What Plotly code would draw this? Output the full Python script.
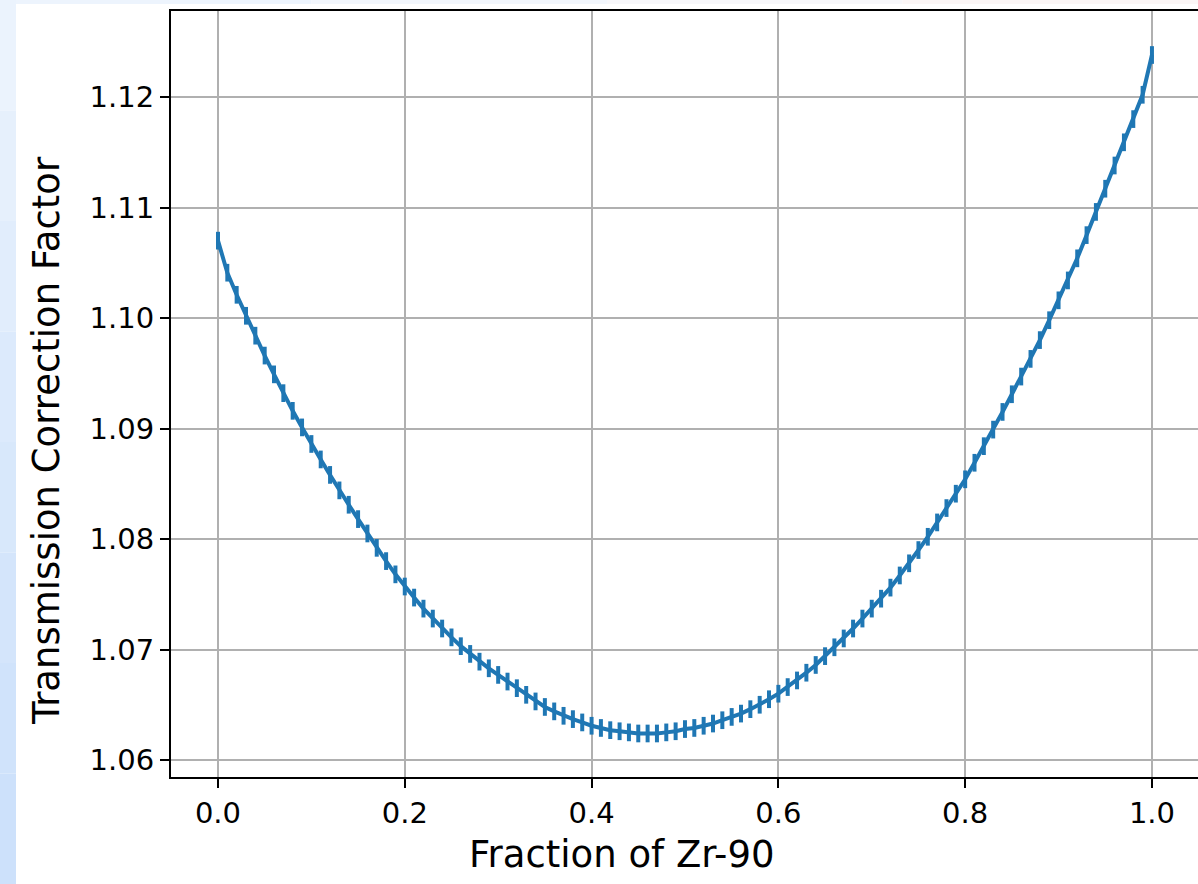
import plotly.graph_objects as go

# ---- data ----
fraction_zr90 = [round(i * 0.01, 2) for i in range(101)]
correction_factor = [
    1.1070, 1.1041, 1.1021, 1.1002, 1.0984, 1.0966, 1.0949, 1.0932, 1.0916, 1.0901,
    1.0886, 1.0872, 1.0858, 1.0844, 1.0831, 1.0818, 1.0805, 1.0792, 1.0780, 1.0768,
    1.0757, 1.0747, 1.0737, 1.0728, 1.0719, 1.0711, 1.0703, 1.0696, 1.0689, 1.0683,
    1.0677, 1.0671, 1.0665, 1.0659, 1.0653, 1.0648, 1.0644, 1.0640, 1.0637, 1.0634,
    1.0631, 1.0629, 1.0627, 1.0626, 1.0625, 1.0624, 1.0624, 1.0624, 1.0625, 1.0626,
    1.0628, 1.0629, 1.0631, 1.0633, 1.0636, 1.0639, 1.0642, 1.0646, 1.0650, 1.0655,
    1.0660, 1.0666, 1.0672, 1.0679, 1.0686, 1.0694, 1.0702, 1.0710, 1.0719, 1.0728,
    1.0737, 1.0746, 1.0756, 1.0767, 1.0778, 1.0790, 1.0802, 1.0815, 1.0828, 1.0841,
    1.0854, 1.0869, 1.0884, 1.0899, 1.0915, 1.0931, 1.0947, 1.0963, 1.0980, 1.0998,
    1.1016, 1.1034, 1.1054, 1.1075, 1.1096, 1.1117, 1.1138, 1.1159, 1.1180, 1.1202,
    1.1238,
]
uncertainty = [0.0008] * len(correction_factor)

x_ticks = [0.0, 0.2, 0.4, 0.6, 0.8, 1.0]
x_tick_labels = ["0.0", "0.2", "0.4", "0.6", "0.8", "1.0"]
y_ticks = [1.06, 1.07, 1.08, 1.09, 1.10, 1.11, 1.12]
y_tick_labels = ["1.06", "1.07", "1.08", "1.09", "1.10", "1.11", "1.12"]

x_title = "Fraction of Zr-90"
y_title = "Transmission Correction Factor"

# ---- figure ----
W, H = 1198, 884
L, R, T, B = 171, 0, 11, 107
pw, ph = W - L - R, H - T - B

def px(xpix):
    return (xpix - L) / pw

def py(ypix):
    return (H - B - ypix) / ph

BLUE = "#1f77b4"
FONT = "DejaVu Sans"

fig = go.Figure()
fig.add_trace(go.Scatter(
    x=fraction_zr90,
    y=correction_factor,
    mode="lines",
    line=dict(color=BLUE, width=4),
    error_y=dict(type="data", array=uncertainty, visible=True,
                 color=BLUE, thickness=4, width=0),
    showlegend=False,
))

shapes = []
# light blue frame strips around the white figure (screenshot backdrop)
strip_cols = ["#ebf3fd", "#e6f0fc", "#e1edfc", "#dceafc", "#d8e8fb", "#d4e5fb", "#d0e3fb", "#cde1fb"]
n = len(strip_cols)
for i, c in enumerate(strip_cols):
    y0 = H * i / n
    y1 = H * (i + 1) / n
    shapes.append(dict(type="rect", xref="paper", yref="paper",
                       x0=px(0), x1=px(16), y0=py(y1), y1=py(y0),
                       fillcolor=c, line=dict(width=0), layer="below"))
top_cols = ["#edf4fd", "#f2f6fc", "#f7f7fa", "#fbf6f6"]
m = len(top_cols)
for i, c in enumerate(top_cols):
    x0 = 16 + (W - 16) * i / m
    x1 = 16 + (W - 16) * (i + 1) / m
    shapes.append(dict(type="rect", xref="paper", yref="paper",
                       x0=px(x0), x1=px(x1), y0=py(4), y1=py(0),
                       fillcolor=c, line=dict(width=0), layer="below"))

fig.update_layout(
    width=W, height=H,
    margin=dict(l=L, r=R, t=T, b=B, pad=0),
    paper_bgcolor="white",
    plot_bgcolor="white",
    font=dict(family=FONT, color="black", size=29),
    shapes=shapes,
    hovermode=False,
    annotations=[
        dict(text=x_title, xref="paper", yref="paper", x=px(622), y=py(854),
             xanchor="center", yanchor="middle", showarrow=False,
             font=dict(family=FONT, size=37, color="black")),
        dict(text=y_title, xref="paper", yref="paper", x=px(46), y=py(441),
             xanchor="center", yanchor="middle", showarrow=False, textangle=-90,
             font=dict(family=FONT, size=37, color="black")),
    ],
)

fig.update_xaxes(
    range=[-0.0503, 1.0493],
    tickvals=x_ticks, ticktext=x_tick_labels,
    showgrid=True, gridcolor="#b0b0b0", gridwidth=2,
    showline=True, linecolor="black", linewidth=2, mirror=True,
    ticks="outside", ticklen=9, tickwidth=2, tickcolor="black",
    tickfont=dict(family=FONT, size=29, color="black"),
    zeroline=False,
)
fig.update_yaxes(
    range=[1.058462, 1.127783],
    tickvals=y_ticks, ticktext=y_tick_labels,
    showgrid=True, gridcolor="#b0b0b0", gridwidth=2,
    showline=True, linecolor="black", linewidth=2, mirror=False,
    ticks="outside", ticklen=9, tickwidth=2, tickcolor="black",
    tickfont=dict(family=FONT, size=29, color="black"),
    zeroline=False,
)

fig.write_html(
    "out.html",
    config={"displayModeBar": False},
    post_script="document.body.style.margin='0';document.body.style.overflow='hidden';",
)
